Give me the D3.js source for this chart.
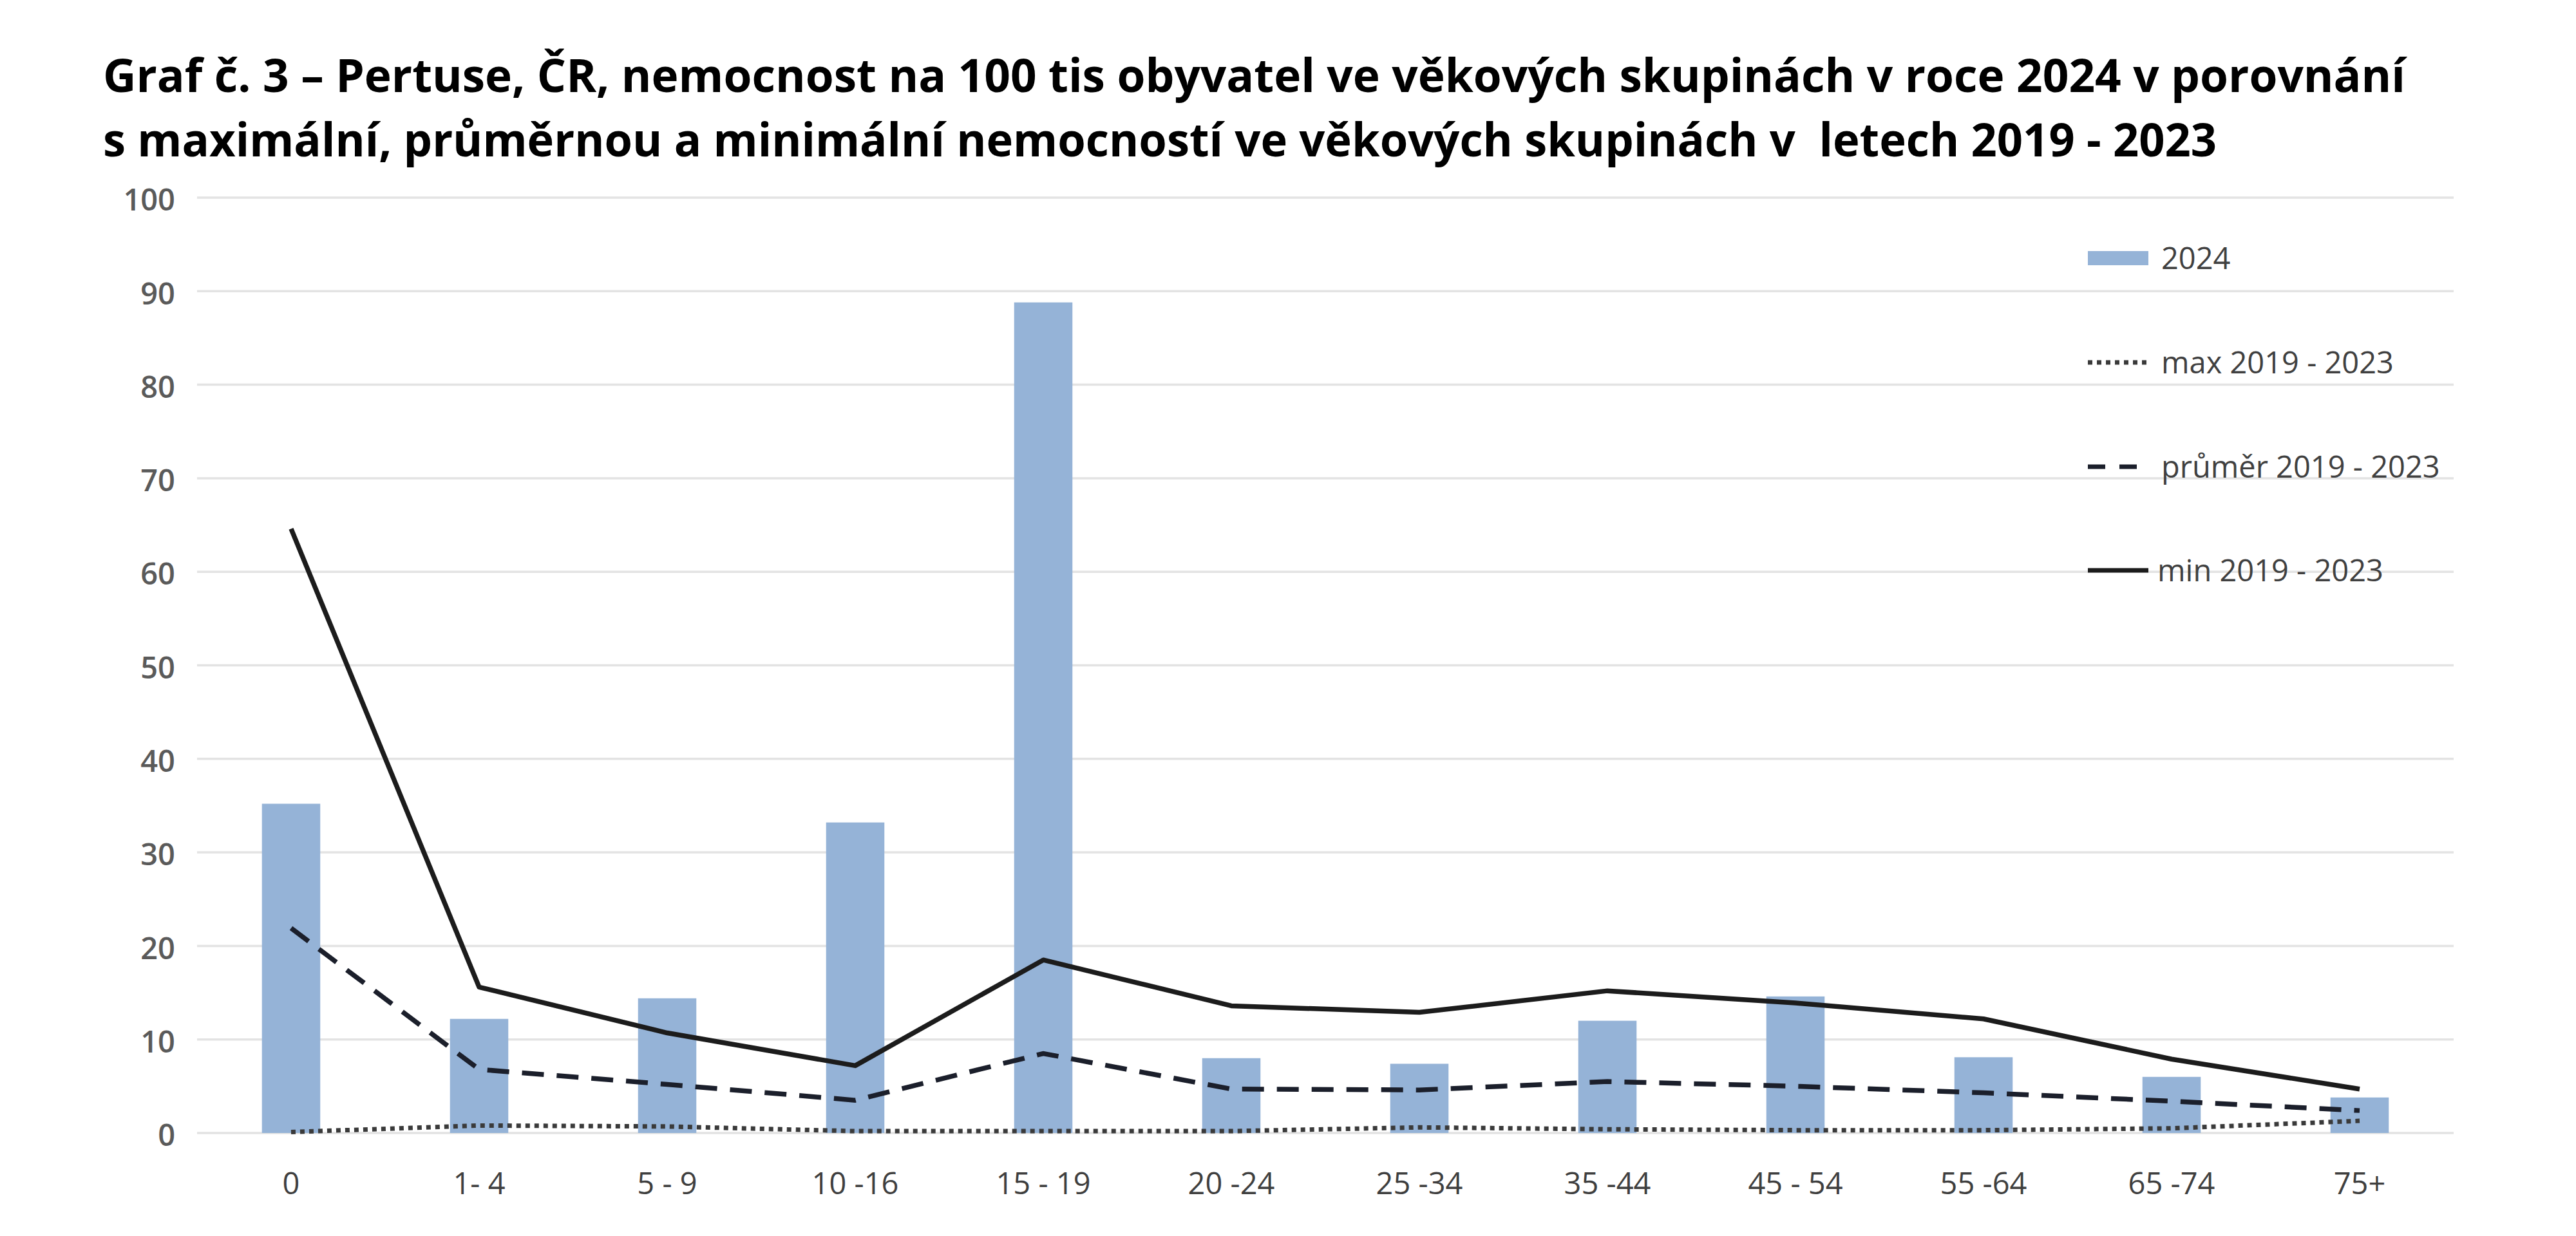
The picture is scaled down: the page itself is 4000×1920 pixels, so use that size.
<!DOCTYPE html>
<html>
<head>
<meta charset="utf-8">
<script src="https://cdn.jsdelivr.net/npm/d3@7"></script>
<style>
  html, body { margin: 0; padding: 0; background: #ffffff; }
  svg { display: block; }
</style>
</head>
<body>
<svg id="chart" width="4000" height="1920"></svg>
<script>
// ---- data ----
const titleLines = [
  "Graf č. 3 – Pertuse, ČR, nemocnost na 100 tis obyvatel ve věkových skupinách v roce 2024 v porovnání",
  "s maximální, průměrnou a minimální nemocností ve věkových skupinách v  letech 2019 - 2023"
];
const categories = ["0", "1- 4", "5 - 9", "10 -16", "15 - 19", "20 -24", "25 -34", "35 -44", "45 - 54", "55 -64", "65 -74", "75+"];
const values2024 = [35.2, 12.2, 14.4, 33.2, 88.8, 8.0, 7.4, 12.0, 14.6, 8.1, 6.0, 3.8];
const maxValues  = [0.1, 0.8, 0.7, 0.2, 0.2, 0.2, 0.6, 0.4, 0.3, 0.3, 0.5, 1.3];
const avgValues  = [21.9, 6.8, 5.2, 3.5, 8.5, 4.7, 4.6, 5.5, 5.0, 4.3, 3.4, 2.4];
const minValues  = [64.6, 15.6, 10.7, 7.2, 18.5, 13.6, 12.9, 15.2, 13.9, 12.2, 7.9, 4.7];
const yTicks = [0, 10, 20, 30, 40, 50, 60, 70, 80, 90, 100];
const legendLabels = ["2024", "max 2019 - 2023", "průměr 2019 - 2023", "min 2019 - 2023"];

// ---- layout ----
const svg = d3.select("#chart");
const plot = { left: 306, right: 3810, top: 307, bottom: 1760 };
const barColor = "#95b3d7";
const lineColor = "#1c1c1c";
const dashColor = "#1b1f2b";
const dotColor = "#3a3a3a";

const x = d3.scaleBand()
  .domain(categories)
  .range([plot.left, plot.right])
  .paddingInner(0.69)
  .paddingOuter(0.345);
const y = d3.scaleLinear().domain([0, 100]).range([plot.bottom, plot.top]);
const cx = (c) => x(c) + x.bandwidth() / 2;

// title
const title = svg.append("g");
const titleBase = [143, 243];
const titleWidth = [3575, 3282];
titleLines.forEach((t, i) => {
  title.append("text")
    .attr("x", 160)
    .attr("y", titleBase[i])
    .attr("font-family", "'Open Sans', 'Noto Sans', sans-serif")
    .attr("font-weight", 700)
    .attr("font-size", 71)
    .attr("fill", "#000")
    .style("white-space", "pre")
    .attr("textLength", titleWidth[i])
    .attr("lengthAdjust", "spacingAndGlyphs")
    .text(t);
});

// gridlines
svg.append("g").selectAll("line")
  .data(yTicks)
  .join("line")
  .attr("x1", plot.left)
  .attr("x2", plot.right)
  .attr("y1", d => y(d))
  .attr("y2", d => y(d))
  .attr("stroke", "#e3e3e3")
  .attr("stroke-width", 3.5);

// y axis labels
const yAxis = d3.axisLeft(y).tickValues(yTicks).tickSize(0).tickPadding(34);
const yg = svg.append("g").attr("transform", `translate(${plot.left},0)`).call(yAxis);
yg.select(".domain").remove();
yg.selectAll("text")
  .attr("font-family", "'Open Sans', 'Noto Sans', sans-serif")
  .attr("font-size", 47)
  .attr("font-weight", 600)
  .attr("fill", "#5a5a5a")
  .attr("dy", "0.42em");

// x axis labels
const xAxis = d3.axisBottom(x).tickSize(0).tickPadding(62);
const xg = svg.append("g").attr("transform", `translate(0,${plot.bottom})`).call(xAxis);
xg.select(".domain").remove();
xg.selectAll("text")
  .attr("font-family", "'Open Sans', 'Noto Sans', sans-serif")
  .attr("font-size", 47)
  .attr("fill", "#3f3f3f")
  .style("white-space", "pre");

// bars
svg.append("g").selectAll("rect")
  .data(values2024)
  .join("rect")
  .attr("x", (d, i) => x(categories[i]))
  .attr("width", x.bandwidth())
  .attr("y", d => y(d))
  .attr("height", d => y(0) - y(d))
  .attr("fill", barColor);

// lines
const lineGen = d3.line().x((d, i) => cx(categories[i])).y(d => y(d));
svg.append("path").datum(maxValues)
  .attr("d", lineGen).attr("fill", "none")
  .attr("stroke", dotColor).attr("stroke-width", 7)
  .attr("stroke-dasharray", "7,7");
svg.append("path").datum(avgValues)
  .attr("d", lineGen).attr("fill", "none")
  .attr("stroke", dashColor).attr("stroke-width", 7.5)
  .attr("stroke-dasharray", "34,20");
svg.append("path").datum(minValues)
  .attr("d", lineGen).attr("fill", "none")
  .attr("stroke", lineColor).attr("stroke-width", 7.5)
  .attr("stroke-linejoin", "round");

// legend
const legendY = [401, 563, 725, 886];
const lg = svg.append("g");
const lx0 = 3242, lx1 = 3336, ltx = 3356;
lg.append("rect").attr("x", lx0).attr("y", legendY[0] - 11).attr("width", lx1 - lx0).attr("height", 22).attr("fill", barColor);
lg.append("line").attr("x1", lx0).attr("x2", lx1).attr("y1", legendY[1]).attr("y2", legendY[1])
  .attr("stroke", dotColor).attr("stroke-width", 7).attr("stroke-dasharray", "7,7");
lg.append("line").attr("x1", lx0).attr("x2", lx0 + 80).attr("y1", legendY[2]).attr("y2", legendY[2])
  .attr("stroke", dashColor).attr("stroke-width", 7).attr("stroke-dasharray", "27,22");
lg.append("line").attr("x1", lx0).attr("x2", lx1).attr("y1", legendY[3]).attr("y2", legendY[3])
  .attr("stroke", lineColor).attr("stroke-width", 7);
lg.selectAll("text")
  .data(legendLabels)
  .join("text")
  .attr("x", (d, i) => i === 3 ? ltx - 6 : ltx)
  .attr("y", (d, i) => legendY[i])
  .attr("dy", "0.36em")
  .attr("font-family", "'Open Sans', 'Noto Sans', sans-serif")
  .attr("font-size", 47)
  .attr("fill", "#404040")
  .text(d => d);
</script>
</body>
</html>
